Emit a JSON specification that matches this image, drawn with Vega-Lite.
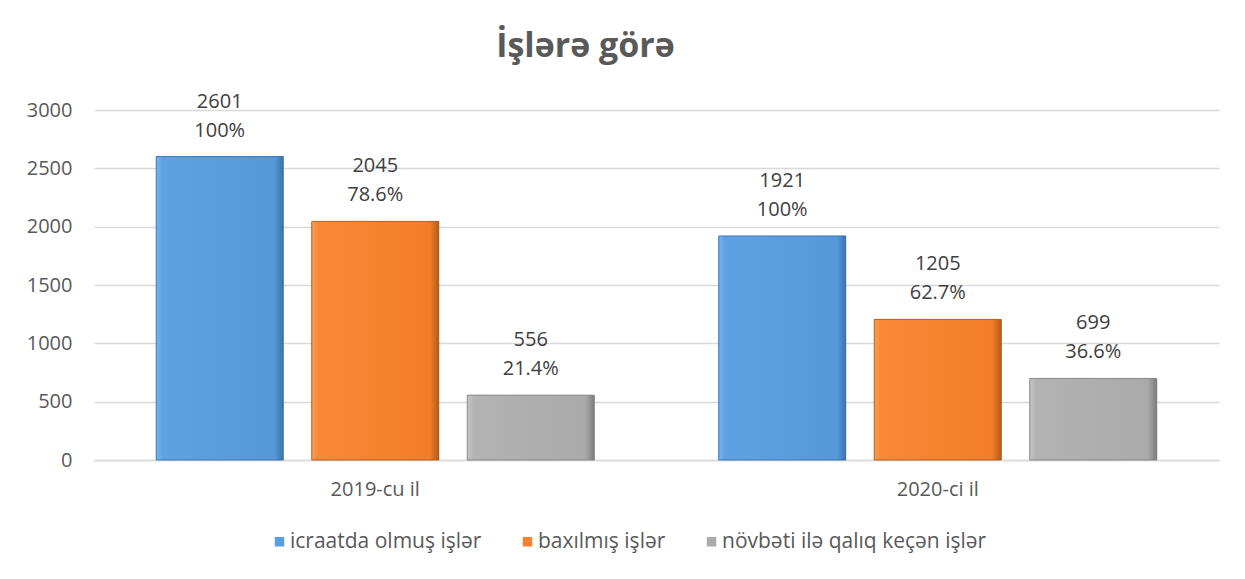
{
  "$schema": "https://vega.github.io/schema/vega-lite/v6.json",
  "width": 1125,
  "height": 350,
  "autosize": {"type": "none"},
  "padding": {"left": 94, "top": 110, "right": 26, "bottom": 119},
  "background": "white",
  "title": {
    "text": "İşlərə görə",
    "font": "Open Sans",
    "fontSize": 34,
    "fontWeight": "bold",
    "color": "#595959",
    "anchor": "middle",
    "dx": -71,
    "offset": 28
  },
  "data": {
    "values": [
      {"year": "2019-cu il", "cat": "icraatda olmuş işlər", "value": 2601, "pct": "100%"},
      {"year": "2019-cu il", "cat": "baxılmış işlər", "value": 2045, "pct": "78.6%"},
      {"year": "2019-cu il", "cat": "növbəti ilə qalıq keçən işlər", "value": 556, "pct": "21.4%"},
      {"year": "2020-ci il", "cat": "icraatda olmuş işlər", "value": 1921, "pct": "100%"},
      {"year": "2020-ci il", "cat": "baxılmış işlər", "value": 1205, "pct": "62.7%"},
      {"year": "2020-ci il", "cat": "növbəti ilə qalıq keçən işlər", "value": 699, "pct": "36.6%"}
    ]
  },
  "encoding": {
    "x": {
      "field": "year",
      "type": "nominal",
      "sort": null,
      "scale": {"paddingInner": 0, "paddingOuter": 0},
      "axis": {
        "title": null,
        "labelAngle": 0,
        "ticks": false,
        "domainColor": "#d9d9d9",
        "domainWidth": 1.5,
        "labelPadding": 19,
        "labelFontSize": 20,
        "labelColor": "#595959",
        "labelFont": "Open Sans"
      }
    },
    "xOffset": {
      "field": "cat",
      "type": "nominal",
      "sort": ["icraatda olmuş işlər", "baxılmış işlər", "növbəti ilə qalıq keçən işlər"],
      "scale": {"domain": ["icraatda olmuş işlər", "baxılmış işlər", "növbəti ilə qalıq keçən işlər"], "paddingInner": 0.183, "paddingOuter": 0.4}
    },
    "y": {
      "field": "value",
      "type": "quantitative",
      "scale": {"domain": [0, 3000], "nice": false},
      "axis": {
        "title": null,
        "format": "d",
        "values": [0, 500, 1000, 1500, 2000, 2500, 3000],
        "domain": false,
        "ticks": false,
        "gridColor": "#d9d9d9",
        "gridWidth": 1.5,
        "labelPadding": 22,
        "labelFontSize": 20,
        "labelColor": "#595959",
        "labelFont": "Open Sans"
      }
    }
  },
  "layer": [
    {
      "mark": {"type": "bar"},
      "encoding": {
        "color": {
          "field": "cat",
          "type": "nominal",
          "sort": ["icraatda olmuş işlər", "baxılmış işlər", "növbəti ilə qalıq keçən işlər"],
          "scale": {
            "domain": ["icraatda olmuş işlər", "baxılmış işlər", "növbəti ilə qalıq keçən işlər"],
            "range": ["#5a9ee0", "#f5822e", "#ababab"]
          },
          "legend": {
            "title": null,
            "orient": "none",
            "direction": "horizontal",
            "legendX": 175,
            "legendY": 421,
            "symbolType": "square",
            "symbolSize": 90,
            "symbolStrokeWidth": 0,
            "labelFontSize": 21,
            "labelFont": "Open Sans",
            "labelColor": "#595959",
            "labelOffset": 0,
            "labelLimit": 0,
            "columnPadding": 35
          }
        }
      }
    },
    {
      "transform": [{"filter": "datum.cat === 'icraatda olmuş işlər'"}],
      "mark": {"type": "bar", "stroke": "#2f6aa3", "strokeWidth": 0.8, "color": {"gradient": "linear", "x1": 0, "y1": 0, "x2": 1, "y2": 0, "stops": [
        {"offset": 0, "color": "#78b3ea"}, {"offset": 0.05, "color": "#5ea2e4"},
        {"offset": 0.93, "color": "#5599db"},
        {"offset": 1, "color": "#3b74ad"}]}}
    },
    {
      "transform": [{"filter": "datum.cat === 'baxılmış işlər'"}],
      "mark": {"type": "bar", "stroke": "#a8500f", "strokeWidth": 0.8, "color": {"gradient": "linear", "x1": 0, "y1": 0, "x2": 1, "y2": 0, "stops": [
        {"offset": 0, "color": "#f99c58"}, {"offset": 0.05, "color": "#f88938"},
        {"offset": 0.93, "color": "#f27d29"},
        {"offset": 1, "color": "#bb5a15"}]}}
    },
    {
      "transform": [{"filter": "datum.cat === 'növbəti ilə qalıq keçən işlər'"}],
      "mark": {"type": "bar", "stroke": "#7a7a7a", "strokeWidth": 0.8, "color": {"gradient": "linear", "x1": 0, "y1": 0, "x2": 1, "y2": 0, "stops": [
        {"offset": 0, "color": "#c6c6c6"}, {"offset": 0.05, "color": "#b3b3b3"},
        {"offset": 0.93, "color": "#aaaaaa"},
        {"offset": 1, "color": "#7d7d7d"}]}}
    },
    {
      "mark": {"type": "text", "dy": -55, "baseline": "middle", "fontSize": 20, "font": "Open Sans", "color": "#404040"},
      "encoding": {"text": {"field": "value", "type": "quantitative", "format": "d"}}
    },
    {
      "mark": {"type": "text", "dy": -26, "baseline": "middle", "fontSize": 20, "font": "Open Sans", "color": "#404040"},
      "encoding": {"text": {"field": "pct", "type": "nominal"}}
    }
  ],
  "config": {
    "view": {"stroke": null},
    "font": "Open Sans"
  }
}
